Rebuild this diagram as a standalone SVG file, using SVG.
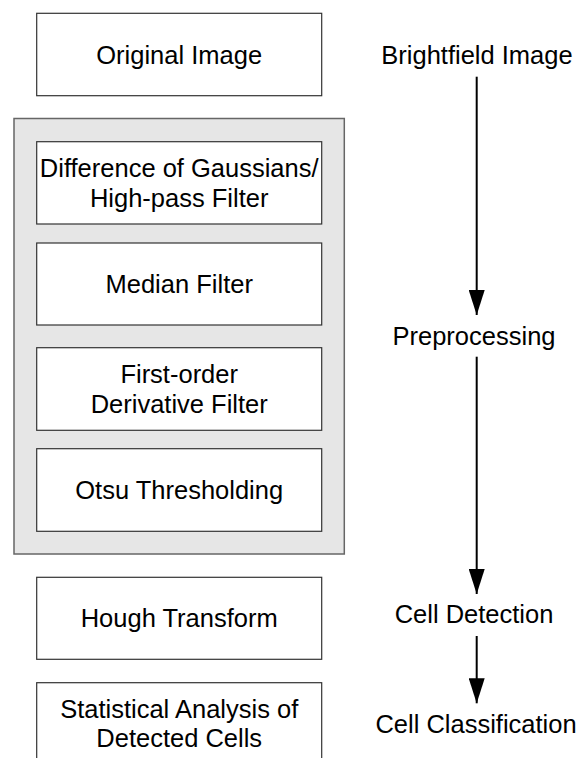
<svg xmlns="http://www.w3.org/2000/svg" width="579" height="758" viewBox="0 0 579 758">
<defs>
<style>
.box{fill:#ffffff;stroke:#333333;stroke-width:1.2}
.panel{fill:#e6e6e6;stroke:#666666;stroke-width:1.5}
.t{font-family:"Liberation Sans",Arial,sans-serif;font-size:25.5px;fill:#000000;text-anchor:middle}
.conn{stroke:#000000;stroke-width:2;fill:none}
</style>
<marker id="ah" viewBox="0 0 25 16" refX="25" refY="8" markerWidth="25" markerHeight="16" markerUnits="userSpaceOnUse" orient="auto">
<path d="M0,0 L25,8 L0,16 Z" fill="#000000"/>
</marker>
</defs>
<rect x="0" y="0" width="579" height="758" fill="#ffffff"/>
<g id="original">
<rect class="box" x="36.7" y="13.3" width="285" height="82.4"/>
<text class="t" x="179.2" y="63.5">Original Image</text>
</g>
<g id="preprocessing-panel">
<rect class="panel" x="14" y="118.5" width="330.3" height="435.5"/>
</g>
<g id="dog">
<rect class="box" x="36.7" y="141.7" width="285" height="82.3"/>
<text class="t" x="179.2" y="176.7">Difference of Gaussians/</text>
<text class="t" x="179.2" y="206.7">High-pass Filter</text>
</g>
<g id="median">
<rect class="box" x="36.7" y="243" width="285" height="82"/>
<text class="t" x="179.2" y="293">Median Filter</text>
</g>
<g id="derivative">
<rect class="box" x="36.7" y="347.7" width="285" height="82.6"/>
<text class="t" x="179.2" y="383">First-order</text>
<text class="t" x="179.2" y="413">Derivative Filter</text>
</g>
<g id="otsu">
<rect class="box" x="36.7" y="448.7" width="285" height="82.6"/>
<text class="t" x="179.2" y="499">Otsu Thresholding</text>
</g>
<g id="hough">
<rect class="box" x="36.7" y="577.3" width="285" height="82"/>
<text class="t" x="179.2" y="627">Hough Transform</text>
</g>
<g id="statistical">
<rect class="box" x="36.7" y="682.7" width="285" height="90"/>
<text class="t" x="179.2" y="717.5">Statistical Analysis of</text>
<text class="t" x="179.2" y="747">Detected Cells</text>
</g>
<g id="stage-brightfield">
<text class="t" x="477" y="63.5">Brightfield Image</text>
</g>
<g id="stage-preprocessing">
<text class="t" x="474" y="345">Preprocessing</text>
</g>
<g id="stage-detection">
<text class="t" x="474" y="623.3">Cell Detection</text>
</g>
<g id="stage-classification">
<text class="t" x="476" y="733.3">Cell Classification</text>
</g>
<g id="connectors">
<line class="conn" x1="476.7" y1="76.7" x2="476.7" y2="315" marker-end="url(#ah)"/>
<line class="conn" x1="476.7" y1="356.7" x2="476.7" y2="594" marker-end="url(#ah)"/>
<line class="conn" x1="476.7" y1="636" x2="476.7" y2="703.3" marker-end="url(#ah)"/>
</g>
</svg>
